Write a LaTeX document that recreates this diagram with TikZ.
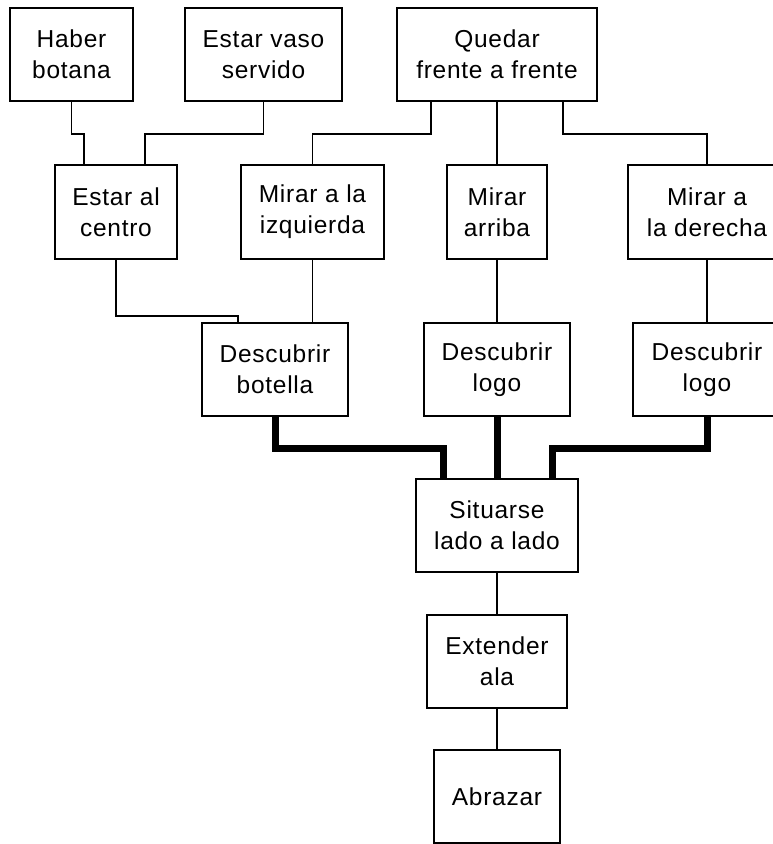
\documentclass[tikz,border=0pt]{standalone}
\usepackage{fontspec}
\setmainfont{Liberation Sans}[LetterSpace=3]
\usetikzlibrary{calc}
\begin{document}
\begin{tikzpicture}[x=1pt,y=-1pt,
  box/.style={draw,line width=1.6pt,inner sep=0pt,align=center,
    font=\fontsize{24.5}{31}\selectfont},
  thin/.style={line width=1.6pt},
  thick/.style={line width=7pt,line join=miter}]
\useasboundingbox[fill=white] (0,0) rectangle (772,844);
% row 1
\node[box,minimum width=123pt,minimum height=93pt] (hb) at (71.5,54.5) {Haber\\botana};
\node[box,minimum width=157pt,minimum height=93pt] (ev) at (263.5,54.5) {Estar vaso\\servido};
\node[box,minimum width=200pt,minimum height=93pt] (qf) at (497,54.5) {Quedar\\frente a frente};
% row 2
\node[box,minimum width=122pt,minimum height=94pt] (ec) at (116,212) {Estar al\\centro};
\node[box,minimum width=143pt,minimum height=94pt] (mi) at (312.5,212) {Mirar a la\\izquierda};
\node[box,minimum width=100pt,minimum height=94pt] (ma) at (497,212) {Mirar\\arriba};
\node[box,minimum width=158pt,minimum height=94pt] (md) at (707,212) {Mirar a\\la derecha};
% row 3
\node[box,minimum width=146pt,minimum height=93pt] (db) at (275,369.5) {Descubrir\\botella};
\node[box,minimum width=146pt,minimum height=93pt] (dl) at (497,369.5) {Descubrir\\logo};
\node[box,minimum width=148pt,minimum height=93pt] (dr) at (707,369.5) {Descubrir\\logo};
% lower column
\node[box,minimum width=162pt,minimum height=93pt] (sl) at (497,525.5) {Situarse\\lado a lado};
\node[box,minimum width=140pt,minimum height=93pt] (ex) at (497,661.5) {Extender\\ala};
\node[box,minimum width=126pt,minimum height=93pt] (ab) at (497,796.5) {Abrazar};
% thin connectors
\draw[thin] (hb.south) -- ++(0,32) -| ([xshift=-32pt]ec.north);
\draw[thin] (ev.south) -- ++(0,32) -| ([xshift=29pt]ec.north);
\draw[thin] ([xshift=-66pt]qf.south) -- ++(0,32) -| (mi.north);
\draw[thin] (qf.south) -- (ma.north);
\draw[thin] ([xshift=66pt]qf.south) -- ++(0,32) -| (md.north);
\draw[thin] (ec.south) -- ++(0,56) -| ([xshift=-37pt]db.north);
\draw[thin] (mi.south) -- ([xshift=37.5pt]db.north);
\draw[thin] (ma.south) -- (dl.north);
\draw[thin] (md.south) -- (dr.north);
\draw[thin] (sl.south) -- (ex.north);
\draw[thin] (ex.south) -- (ab.north);
% thick connectors
\draw[thick] (db.south) -- ++(0,32) -| ([xshift=-54pt]sl.north);
\draw[thick] (dl.south) -- (sl.north);
\draw[thick] (dr.south) -- ++(0,32) -| ([xshift=55pt]sl.north);
\end{tikzpicture}
\end{document}
